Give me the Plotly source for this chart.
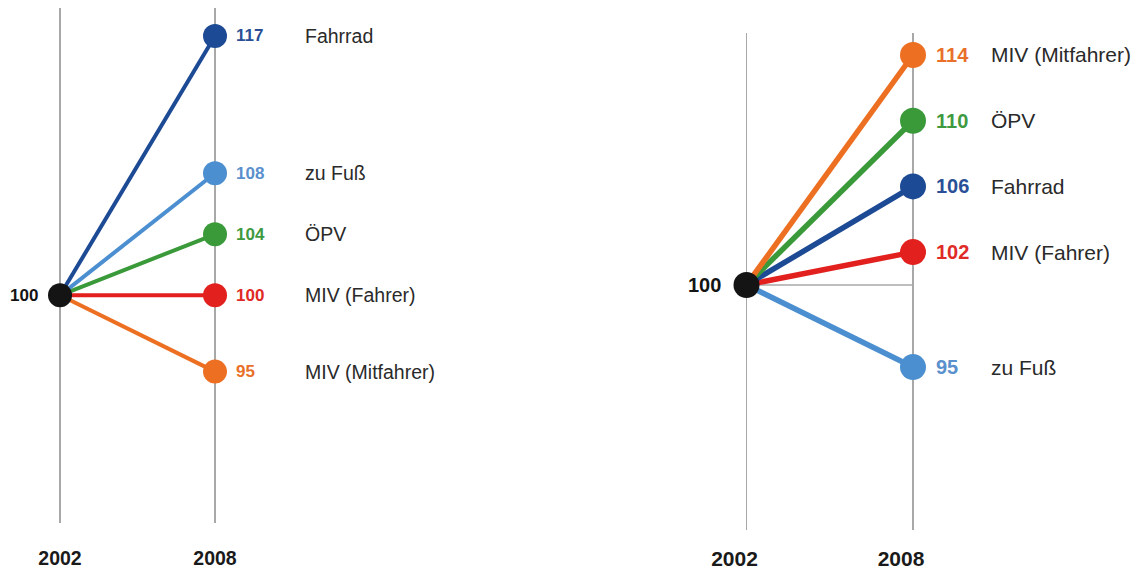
import plotly.graph_objects as go

# ---------------- data ----------------
years = [2002, 2008]
year_labels = ["2002", "2008"]
base_value = 100

left_modes = ["Fahrrad", "zu Fuß", "ÖPV", "MIV (Fahrer)", "MIV (Mitfahrer)"]
left_values = [117, 108, 104, 100, 95]

right_modes = ["MIV (Mitfahrer)", "ÖPV", "Fahrrad", "MIV (Fahrer)", "zu Fuß"]
right_values = [114, 110, 106, 102, 95]

# ---------------- styles ----------------
mode_colors = {
    "Fahrrad": "#1d4a94",
    "zu Fuß": "#4c8fd1",
    "ÖPV": "#3a9a3a",
    "MIV (Fahrer)": "#e2211f",
    "MIV (Mitfahrer)": "#ec6f22",
}
label_colors = {
    "Fahrrad": "#2a4f96",
    "zu Fuß": "#5a90cc",
    "ÖPV": "#3f9a3f",
    "MIV (Fahrer)": "#e02a26",
    "MIV (Mitfahrer)": "#e8702a",
}
FONT = "Liberation Sans, Arial, sans-serif"
GRID = "#a8a8a8"
TEXT = "#2a2a2a"

W, H = 1140, 570

panels = [
    dict(modes=left_modes, values=left_values, xa="x", ya="y",
         xdom=[0.0, 0.5], ydom=[(H - 529) / H, (H - 8) / H],
         xrange=[1999.677, 2021.742], yrange=[85.113, 118.835],
         msize=24, lw=4, vfs=17, nfs=19.5, yfs=19.5, vshift=19, nshift=88,
         bshift=-20, hline=False, standoff=22, tshift=0),
    dict(modes=right_modes, values=right_values, xa="x2", ya="y2",
         xdom=[0.5, 1.0], ydom=[(H - 537) / H, (H - 33) / H],
         xrange=[1995.640, 2016.180], yrange=[85.057, 115.364],
         msize=26, lw=5.5, vfs=20, nfs=21, yfs=21, vshift=21, nshift=76,
         bshift=-23, hline=True, standoff=14, tshift=-12),
]

fig = go.Figure()
annotations = []
layout_axes = {}

for i, p in enumerate(panels):
    xa, ya = p["xa"], p["ya"]
    if p["hline"]:
        fig.add_trace(go.Scatter(
            x=years, y=[base_value, base_value], mode="lines",
            line=dict(color=GRID, width=1.5), xaxis=xa, yaxis=ya,
            hoverinfo="skip", showlegend=False))
    for mode, val in reversed(list(zip(p["modes"], p["values"]))):
        c = mode_colors[mode]
        fig.add_trace(go.Scatter(
            x=years, y=[base_value, val], mode="lines+markers",
            line=dict(color=c, width=p["lw"]),
            marker=dict(size=[0, p["msize"]], color=c, opacity=1,
                        line=dict(width=0)),
            xaxis=xa, yaxis=ya, cliponaxis=False, showlegend=False,
            name=mode))
        annotations.append(dict(
            x=years[1], y=val, xref=xa, yref=ya, xanchor="left",
            yanchor="middle", xshift=p["vshift"], showarrow=False,
            text=f"<b>{val}</b>",
            font=dict(family=FONT, size=p["vfs"], color=label_colors[mode])))
        annotations.append(dict(
            x=years[1], y=val, xref=xa, yref=ya, xanchor="left",
            yanchor="middle", xshift=p["nshift"], showarrow=False,
            text=mode, font=dict(family=FONT, size=p["nfs"], color=TEXT)))
    fig.add_trace(go.Scatter(
        x=[years[0]], y=[base_value], mode="markers",
        marker=dict(size=p["msize"], color="#141414", opacity=1),
        xaxis=xa, yaxis=ya, cliponaxis=False, showlegend=False))
    annotations.append(dict(
        x=years[0], y=base_value, xref=xa, yref=ya, xanchor="right",
        yanchor="middle", xshift=p["bshift"], showarrow=False,
        text=f"<b>{base_value}</b>",
        font=dict(family=FONT, size=p["vfs"], color="#141414")))

    sfx = "" if i == 0 else str(i + 1)
    layout_axes["xaxis" + sfx] = dict(
        domain=p["xdom"], range=p["xrange"], anchor=ya,
        tickvals=years, ticktext=[f"<b>{t}</b>" for t in year_labels],
        tickfont=dict(family=FONT, size=p["yfs"], color="#1a1a1a"),
        showgrid=True, gridcolor=GRID, gridwidth=1.5, zeroline=False,
        showline=False, ticks="", ticklabelstandoff=p["standoff"],
        ticklabelshift=p["tshift"], fixedrange=True)
    layout_axes["yaxis" + sfx] = dict(
        domain=p["ydom"], range=p["yrange"], anchor=xa,
        showgrid=False, zeroline=False, showticklabels=False,
        showline=False, ticks="", fixedrange=True)

fig.update_layout(
    width=W, height=H,
    margin=dict(l=0, r=0, t=0, b=0),
    paper_bgcolor="white", plot_bgcolor="white",
    annotations=annotations,
    showlegend=False,
    **layout_axes,
)

fig.write_html("out.html",
               config={"displayModeBar": False, "staticPlot": True},
               post_script="document.body.style.margin='0';"
                           "document.body.style.overflow='hidden';")
